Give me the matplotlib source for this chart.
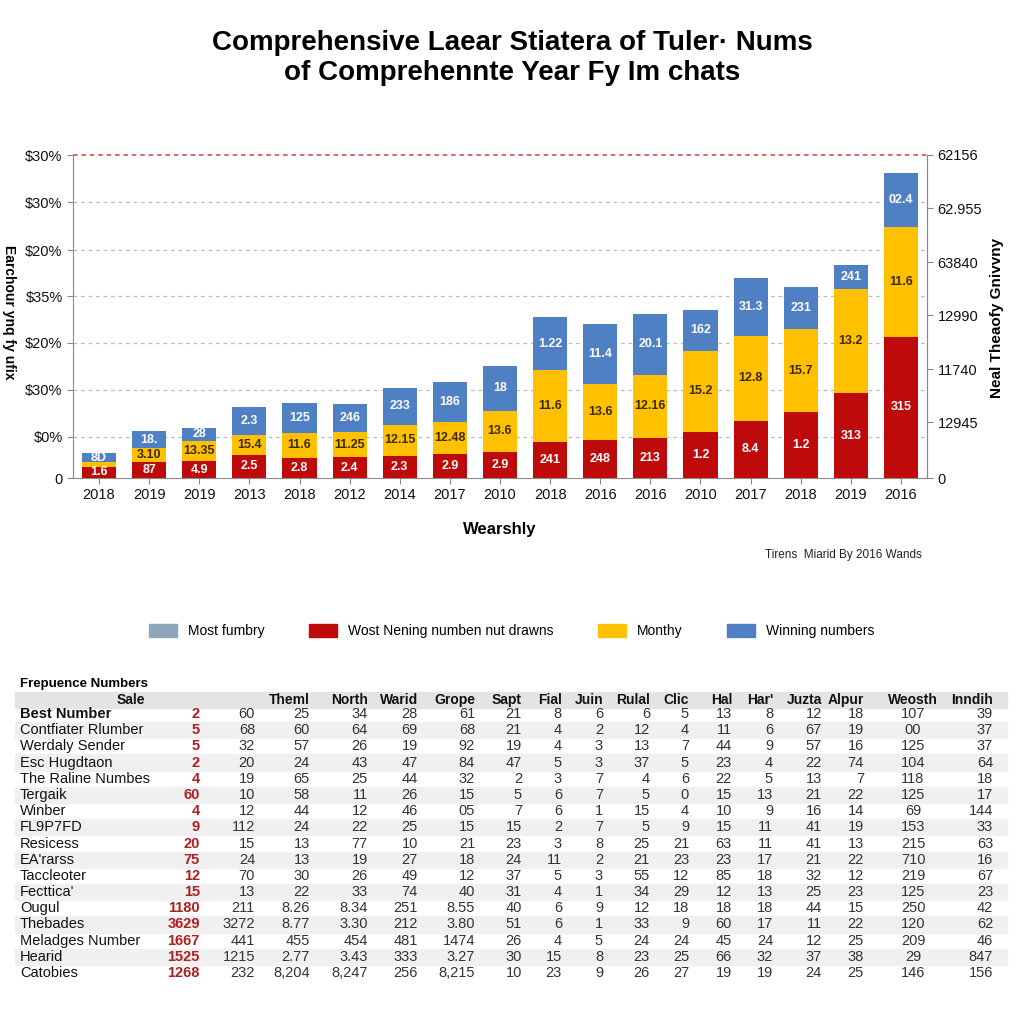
import matplotlib

matplotlib.use("Agg")
import matplotlib.pyplot as plt
from matplotlib.patches import Patch, Rectangle

plt.rcParams["font.family"] = ["Liberation Sans", "DejaVu Sans"]

TITLE = "Comprehensive Laear Stiatera of Tuler\u00b7 Nums\nof Comprehennte Year Fy Im chats"

YEARS = ["2018", "2019", "2019", "2013", "2018", "2012", "2014", "2017", "2010",
         "2018", "2016", "2016", "2010", "2017", "2018", "2019", "2016"]
RED = [2.45, 3.4, 3.6, 5.0, 4.4, 4.55, 4.85, 5.2, 5.7, 7.9, 8.2, 8.7, 10.0, 12.4, 14.2, 18.35, 30.6]
YELLOW = [1.0, 3.0, 4.4, 4.4, 5.35, 5.35, 6.7, 7.0, 8.9, 15.5, 12.1, 13.65, 17.6, 18.4, 18.05, 22.6, 23.9]
BLUE = [1.9, 3.75, 2.9, 5.9, 6.5, 6.15, 7.9, 8.5, 9.6, 11.4, 13.0, 13.3, 8.75, 12.5, 9.1, 5.3, 11.5]
RED_LABELS = ["1.6", "87", "4.9", "2.5", "2.8", "2.4", "2.3", "2.9", "2.9",
              "241", "248", "213", "1.2", "8.4", "1.2", "313", "315"]
YELLOW_LABELS = ["", "3.10", "13.35", "15.4", "11.6", "11.25", "12.15", "12.48", "13.6",
                 "11.6", "13.6", "12.16", "15.2", "12.8", "15.7", "13.2", "11.6"]
BLUE_LABELS = ["8D", "18.", "28", "2.3", "125", "246", "233", "186", "18",
               "1.22", "11.4", "20.1", "162", "31.3", "231", "241", "02.4"]

LEFT_TICK_LABELS = ["0", "$0%", "$30%", "$20%", "$35%", "$20%", "$30%", "$30%"]
RIGHT_TICK_LABELS = ["0", "12945", "11740", "12990", "63840", "62.955", "62156"]

LEGEND_LABELS = ["Most fumbry", "Wost Nening numben nut drawns", "Monthy", "Winning numbers"]

TABLE_TITLE = "Frepuence Numbers"
TABLE_HEADERS = ["Sale", "", "", "Theml", "North", "Warid", "Grope", "Sapt", "Fial", "Juin",
                 "Rulal", "Clic", "Hal", "Har'", "Juzta", "Alpur", "Weosth", "Inndih"]
ROW_NAMES = ["Best Number", "Contfiater Rlumber", "Werdaly Sender", "Esc Hugdtaon",
             "The Raline Numbes", "Tergaik", "Winber", "FL9P7FD", "Resicess", "EA'rarss",
             "Taccleoter", "Fecttica'", "Ougul", "Thebades", "Meladges Number", "Hearid", "Catobies"]
RED_COLUMN = ["2", "5", "5", "2", "4", "60", "4", "9", "20", "75", "12", "15",
              "1180", "3629", "1667", "1525", "1268"]
TABLE_VALUES = [
    "60 25 34 28 61 21 8 6 6 5 13 8 12 18 107 39",
    "68 60 64 69 68 21 4 2 12 4 11 6 67 19 00 37",
    "32 57 26 19 92 19 4 3 13 7 44 9 57 16 125 37",
    "20 24 43 47 84 47 5 3 37 5 23 4 22 74 104 64",
    "19 65 25 44 32 2 3 7 4 6 22 5 13 7 118 18",
    "10 58 11 26 15 5 6 7 5 0 15 13 21 22 125 17",
    "12 44 12 46 05 7 6 1 15 4 10 9 16 14 69 144",
    "112 24 22 25 15 15 2 7 5 9 15 11 41 19 153 33",
    "15 13 77 10 21 23 3 8 25 21 63 11 41 13 215 63",
    "24 13 19 27 18 24 11 2 21 23 23 17 21 22 710 16",
    "70 30 26 49 12 37 5 3 55 12 85 18 32 12 219 67",
    "13 22 33 74 40 31 4 1 34 29 12 13 25 23 125 23",
    "211 8.26 8.34 251 8.55 40 6 9 12 18 18 18 44 15 250 42",
    "3272 8.77 3.30 212 3.80 51 6 1 33 9 60 17 11 22 120 62",
    "441 455 454 481 1474 26 4 5 24 24 45 24 12 25 209 46",
    "1215 2.77 3.43 333 3.27 30 15 8 23 25 66 32 37 38 29 847",
    "232 8,204 8,247 256 8,215 10 23 9 26 27 19 19 24 25 146 156",
]

C_RED = "#BE0A0A"
C_YEL = "#FFC000"
C_BLUE = "#4F80C4"
C_GREY = "#8FA5BA"

W = 1024


def fx(x):
    return x / W


def fy(y):
    return 1 - y / W


fig = plt.figure(figsize=(10.24, 10.24), dpi=100)
fig.text(0.5, fy(58), TITLE, ha="center", va="center", fontsize=20,
         fontweight="bold", linespacing=1.2)

ax = fig.add_axes([fx(73), fy(478), fx(927 - 73), (478 - 155) / W])
x = list(range(len(YEARS)))
bottom_y = [r + y for r, y in zip(RED, YELLOW)]
ax.bar(x, RED, width=0.68, color=C_RED, zorder=3)
ax.bar(x, YELLOW, width=0.68, bottom=RED, color=C_YEL, zorder=3)
ax.bar(x, BLUE, width=0.68, bottom=bottom_y, color=C_BLUE, zorder=3)

for i in x:
    if RED_LABELS[i]:
        ax.text(i, RED[i] / 2, RED_LABELS[i], ha="center", va="center", fontsize=9,
                fontweight="bold", color="white", zorder=4)
    if YELLOW_LABELS[i]:
        ax.text(i, RED[i] + YELLOW[i] / 2, YELLOW_LABELS[i], ha="center", va="center",
                fontsize=9, fontweight="bold", color="#3A2A05", zorder=4)
    if BLUE_LABELS[i]:
        ax.text(i, bottom_y[i] + BLUE[i] / 2, BLUE_LABELS[i], ha="center", va="center",
                fontsize=9, fontweight="bold", color="white", zorder=4)

ax.set_xlim(-0.52, len(YEARS) - 0.48)
ax.set_ylim(0, 70)
ax.set_xticks(x)
ax.set_xticklabels(YEARS, fontsize=10.5)
left_ticks = [0, 8.9, 19.1, 29.3, 39.4, 49.4, 59.8, 70]
ax.set_yticks(left_ticks)
ax.set_yticklabels(LEFT_TICK_LABELS, fontsize=10.5)
for t in left_ticks[1:-1]:
    ax.axhline(t, color="#BDBDBD", lw=0.9, ls=(0, (3, 3)), zorder=1)
ax.axhline(70, color="#D04040", lw=1.1, ls=(0, (3, 2.5)), zorder=1, clip_on=False)
ax.spines["top"].set_visible(False)
for s in ["left", "bottom", "right"]:
    ax.spines[s].set_color("#8A8A8A")
ax.tick_params(colors="#8A8A8A", labelcolor="#111111", length=4)
ax.set_xlabel("Wearshly", fontsize=12, fontweight="bold", labelpad=14)

ax2 = ax.twinx()
ax2.set_ylim(0, 70)
ax2.set_yticks([0, 12.1, 23.6, 35.3, 46.8, 58.5, 70])
ax2.set_yticklabels(RIGHT_TICK_LABELS, fontsize=10.5)
for s in ["top", "left", "bottom"]:
    ax2.spines[s].set_visible(False)
ax2.spines["right"].set_color("#8A8A8A")
ax2.tick_params(colors="#8A8A8A", labelcolor="#111111", length=4)

fig.text(fx(997), fy(318), "Neal Theaofy Gnivvny", rotation=90, ha="center", va="center",
         fontsize=11, fontweight="bold")
fig.text(fx(9), fy(312), "Earchour ynq fy ufix", rotation=270, ha="center", va="center",
         fontsize=10, fontweight="bold")

fig.text(fx(843), fy(555), "Tirens  Miarid By 2016 Wands", ha="center", va="center",
         fontsize=8.5, color="#222222")

handles = [Patch(color=c) for c in [C_GREY, C_RED, C_YEL, C_BLUE]]
fig.legend(handles, LEGEND_LABELS, loc="center", bbox_to_anchor=(0.5, fy(631)), ncol=4,
           frameon=False, fontsize=10, handlelength=2.0, handleheight=1.1,
           columnspacing=3.2, handletextpad=0.8)

# table
fig.text(fx(20), fy(684), TABLE_TITLE, ha="left", va="center", fontsize=9.5, fontweight="bold")
col_x = [145, 200, 255, 310, 368, 418, 475, 522, 562, 603, 650, 689, 732, 773, 822, 864, 913, 993]
header_y = 700
row_h = (973 - 714) / 16
fig.patches.append(Rectangle((fx(15), fy(header_y + 8)), fx(992), 16 / W,
                             transform=fig.transFigure, color="#E4E4E4", zorder=0))
for j, h in enumerate(TABLE_HEADERS):
    if h:
        ha = "center" if h == "Weosth" else "right"
        fig.text(fx(col_x[j]), fy(header_y), h, ha=ha, va="center", fontsize=10,
                 fontweight="bold", color="#111111")

for i, name in enumerate(ROW_NAMES):
    y = 714 + i * row_h
    if i % 2 == 1:
        fig.patches.append(Rectangle((fx(15), fy(y + row_h / 2)), fx(992), row_h / W,
                                     transform=fig.transFigure, color="#F0F0F0", zorder=0))
    fig.text(fx(20), fy(y), name, ha="left", va="center", fontsize=10.5, color="#111111",
             fontweight="bold" if i == 0 else "normal")
    fig.text(fx(col_x[1]), fy(y), RED_COLUMN[i], ha="right", va="center", fontsize=10.5,
             fontweight="bold", color="#B01E1E")
    for j, v in enumerate(TABLE_VALUES[i].split()):
        cx = col_x[j + 2]
        ha = "center" if j == 14 else "right"
        fig.text(fx(cx), fy(y), v, ha=ha, va="center", fontsize=10.5, color="#333333")

fig.savefig("out.png", dpi=100, facecolor="white")
